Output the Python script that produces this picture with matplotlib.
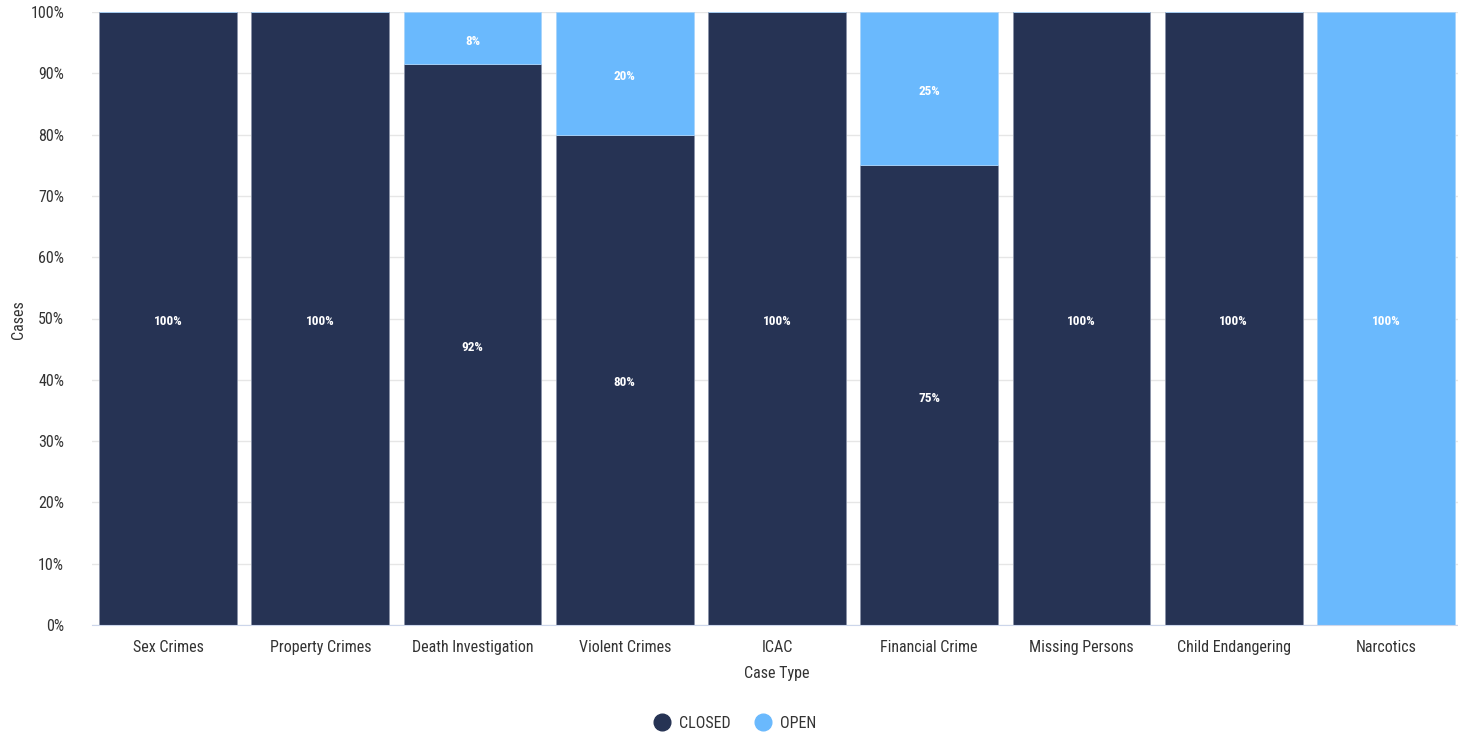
import numpy as np
import matplotlib
matplotlib.use('Agg')
import matplotlib.pyplot as plt
import matplotlib.transforms as mtransforms
from matplotlib.lines import Line2D
from matplotlib.ticker import MultipleLocator, FuncFormatter

plt.rcParams['font.family'] = ['Roboto Condensed', 'Liberation Sans Narrow', 'Roboto', 'DejaVu Sans']

# data
case_types = ['Sex Crimes', 'Property Crimes', 'Death Investigation', 'Violent Crimes', 'ICAC',
              'Financial Crime', 'Missing Persons', 'Child Endangering', 'Narcotics']
closed = [100, 100, 91.5, 80, 100, 75, 100, 100, 0]
open_ = [0, 0, 8.5, 20, 0, 25, 0, 0, 100]

dark = '#263354'
light = '#6AB9FD'

fig = plt.figure(figsize=(14.58, 7.37), dpi=100)
ax = fig.add_axes([92 / 1458, 1 - 625 / 737, (1462 - 92) / 1458, 613 / 737])

x = np.arange(len(case_types))
w = 0.905
ax.bar(x, closed, w, color=dark, edgecolor='#8a93a8', linewidth=0.6, zorder=2)
ax.bar(x, open_, w, bottom=closed, color=light, edgecolor='#a9d4fb', linewidth=0.6, zorder=2)

# labels sit a few px below segment middle, like the original
lbl_tr = ax.transData + mtransforms.ScaledTranslation(0, -3 / 100, fig.dpi_scale_trans)
for i in range(len(x)):
    if closed[i] > 0:
        ax.text(x[i], closed[i] / 2, '%d%%' % round(closed[i]), ha='center', va='center',
                color='white', fontsize=9.5, fontweight='bold', zorder=3, transform=lbl_tr)
    if open_[i] > 0:
        ax.text(x[i], closed[i] + open_[i] / 2, '%d%%' % round(open_[i]), ha='center', va='center',
                color='white', fontsize=9.5, fontweight='bold', zorder=3, transform=lbl_tr)

ax.set_xlim(-0.5, len(x) - 0.5)
ax.set_ylim(0, 100)
ax.yaxis.set_major_locator(MultipleLocator(10))
ax.yaxis.set_major_formatter(FuncFormatter(lambda v, p: '%d%%' % v))
ax.set_xticks(x)
ax.set_xticklabels(case_types)
ax.tick_params(axis='both', length=0, labelsize=11.5, colors='#333333')
ax.tick_params(axis='x', pad=11)
ax.tick_params(axis='y', pad=20)
ax.grid(axis='y', color='#e6e6e6', linewidth=1, zorder=0)
for s in ['top', 'right', 'left']:
    ax.spines[s].set_visible(False)
ax.spines['bottom'].set_color('#ccd6eb')
ax.spines['bottom'].set_zorder(3)

ax.set_xlabel('Case Type', fontsize=11.5, color='#333333', labelpad=8)
fig.text(18 / 1458, 1 - 320 / 737, 'Cases', rotation=90, ha='center', va='center',
         fontsize=11.5, color='#333333')

handles = [Line2D([], [], marker='o', linestyle='none', markersize=12, color=dark),
           Line2D([], [], marker='o', linestyle='none', markersize=12, color=light)]
fig.legend(handles, ['CLOSED', 'OPEN'], loc='center', bbox_to_anchor=(731 / 1458, 1 - 723 / 737),
           ncol=2, frameon=False, fontsize=11.5, handletextpad=0.1, columnspacing=1.0,
           labelcolor='#333333')

fig.savefig('out.png', dpi=100)
